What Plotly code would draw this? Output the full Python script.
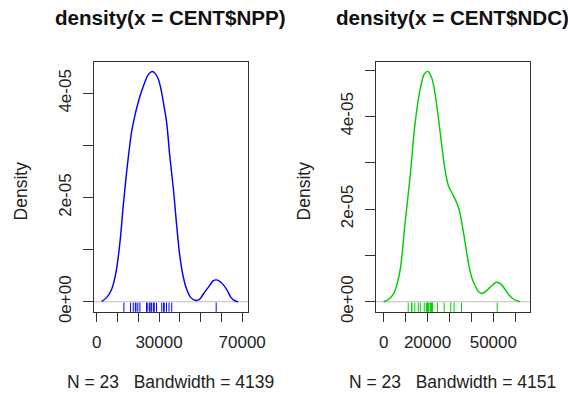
import plotly.graph_objects as go

# ---- data ----
npp_x = [2400, 4800, 7200, 9270, 11200, 12800, 14400, 15600, 16800, 18400, 20000, 21600, 23200,
         25000, 26800, 28200, 29600, 31200, 32400, 33650, 35150, 36900, 38350, 40000, 41550,
         43300, 45300, 47300, 49300, 51300, 54300, 56000, 57700, 59900, 62500, 64700, 66400, 68100]
npp_y = [0.01, 0.08, 0.24, 0.56, 1.14, 1.85, 2.49, 2.90, 3.26, 3.58, 3.83, 4.04, 4.22,
         4.37, 4.42, 4.38, 4.28, 4.03, 3.75, 3.45, 2.81, 2.17, 1.53, 0.88, 0.50,
         0.24, 0.08, 0.03, 0.04, 0.15, 0.31, 0.40, 0.42, 0.37, 0.24, 0.08, 0.02, 0.0]
npp_y = [v * 1e-5 for v in npp_y]
npp_rug = [13100, 16300, 17600, 18600, 18900, 19800, 20800, 24000, 24300, 25300, 25600,
           26200, 26500, 27400, 27700, 28800, 31300, 32200, 32500, 33600, 34800, 36100, 57500]

ndc_x = [0, 2200, 4500, 6200, 7600, 9800, 12100, 14400, 16700, 18600, 20200, 22000, 24200,
         26500, 28000, 29500, 31800, 34100, 36400, 38600, 40200, 41700, 43200, 44700, 46500,
         48500, 51500, 53500, 55300, 57300, 59100, 62100]
ndc_y = [0.0, 0.05, 0.17, 0.40, 0.71, 1.71, 2.72, 3.88, 4.60, 4.92, 4.97, 4.82, 4.24,
         3.37, 2.85, 2.51, 2.29, 2.04, 1.50, 0.85, 0.52, 0.35, 0.22, 0.18, 0.22,
         0.31, 0.42, 0.38, 0.27, 0.14, 0.06, 0.0]
ndc_y = [v * 1e-5 for v in ndc_y]
ndc_rug = [11200, 12700, 12900, 14200, 15800, 16700, 18500, 19400, 19700, 20000, 20300,
           20600, 21200, 21500, 21800, 22100, 22400, 24500, 27600, 30600, 32100, 35500, 51800]

titles = ["density(x = CENT$NPP)", "density(x = CENT$NDC)"]
subtitles = ["N = 23   Bandwidth = 4139", "N = 23   Bandwidth = 4151"]

npp_xticks = [0, 10000, 20000, 30000, 40000, 50000, 60000, 70000]
npp_xlabels = ["0", "", "", "30000", "", "", "", "70000"]
ndc_xticks = [0, 10000, 20000, 30000, 40000, 50000, 60000]
ndc_xlabels = ["0", "", "20000", "", "", "50000", ""]
npp_yticks = [0, 1e-5, 2e-5, 3e-5, 4e-5]
npp_ylabels = ["0e+00", "", "2e-05", "", "4e-05"]
ndc_yticks = [0, 1e-5, 2e-5, 3e-5, 4e-5, 5e-5]
ndc_ylabels = ["0e+00", "", "2e-05", "", "4e-05", ""]

FONT = "Liberation Sans, Arial, sans-serif"
W, H = 568, 394          # reference coordinate frame
K = 1.03                 # render scale compensation
FW, FH = round(W * K), round(H * K)

npp_xr = [-1440, 72870]
npp_yr = [-1.92e-6, 4.60e-5]
ndc_xr = [-3640, 66800]
ndc_yr = [-2.16e-6, 5.17e-5]

fig = go.Figure()

def rug_y(r):
    return r[0] + (r[1] - r[0]) * 0.015

fig.add_trace(go.Scatter(x=npp_x, y=npp_y, mode="lines",
                         line=dict(color="#0000FF", width=1.4 * K, shape="spline", smoothing=1.0),
                         xaxis="x", yaxis="y", showlegend=False, hoverinfo="skip"))
fig.add_trace(go.Scatter(x=npp_rug, y=[rug_y(npp_yr)] * len(npp_rug), mode="markers",
                         marker=dict(symbol="line-ns-open", size=7.5 * K, color="#0000FF",
                                     line=dict(color="#0000FF", width=1)),
                         xaxis="x", yaxis="y", showlegend=False, hoverinfo="skip"))
fig.add_trace(go.Scatter(x=ndc_x, y=ndc_y, mode="lines",
                         line=dict(color="#00CD00", width=1.4 * K, shape="spline", smoothing=1.0),
                         xaxis="x2", yaxis="y2", showlegend=False, hoverinfo="skip"))
fig.add_trace(go.Scatter(x=ndc_rug, y=[rug_y(ndc_yr)] * len(ndc_rug), mode="markers",
                         marker=dict(symbol="line-ns-open", size=7.5 * K, color="#00CD00",
                                     line=dict(color="#00CD00", width=1)),
                         xaxis="x2", yaxis="y2", showlegend=False, hoverinfo="skip"))

for xr, yr in [("x", "y"), ("x2", "y2")]:
    fig.add_shape(type="line", xref=f"{xr} domain", yref=yr, x0=0, x1=1, y0=0, y1=0,
                  line=dict(color="#BEBEBE", width=1), layer="below")

axis_common = dict(showline=True, linecolor="#333333", linewidth=1, mirror=True,
                   ticks="outside", ticklen=9 * K, tickcolor="#333333", tickwidth=1,
                   showgrid=False, zeroline=False, fixedrange=True,
                   tickfont=dict(family=FONT, size=16.5 * K, color="#222222"))

dom1 = [92 / W, 247 / W]
dom2 = [375 / W, 530 / W]
ydom = [(H - 311) / H, (H - 62) / H]

fig.update_layout(
    width=FW, height=FH, margin=dict(l=0, r=0, t=0, b=0, pad=0),
    plot_bgcolor="white", paper_bgcolor="white",
    xaxis=dict(domain=dom1, range=npp_xr, tickvals=npp_xticks, ticktext=npp_xlabels, anchor="y",
               ticklabelstandoff=round(6 * K), **axis_common),
    yaxis=dict(domain=ydom, range=npp_yr, tickvals=npp_yticks, ticktext=npp_ylabels, anchor="x",
               tickangle=-90, ticklabelstandoff=round(6 * K), **axis_common),
    xaxis2=dict(domain=dom2, range=ndc_xr, tickvals=ndc_xticks, ticktext=ndc_xlabels, anchor="y2",
                ticklabelstandoff=round(6 * K), **axis_common),
    yaxis2=dict(domain=ydom, range=ndc_yr, tickvals=ndc_yticks, ticktext=ndc_ylabels, anchor="x2",
                tickangle=-90, ticklabelstandoff=round(6 * K), **axis_common),
)

for i, dom in enumerate([dom1, dom2]):
    cx = (dom[0] + dom[1]) / 2
    fig.add_annotation(text=f"<b>{titles[i]}</b>", x=cx, y=1 - 17 / H, xref="paper", yref="paper",
                       showarrow=False, xanchor="center", yanchor="middle",
                       font=dict(family=FONT, size=20 * K, color="#111111"))
    fig.add_annotation(text=subtitles[i], x=cx, y=1 - 381 / H, xref="paper", yref="paper",
                       showarrow=False, xanchor="center", yanchor="middle",
                       font=dict(family=FONT, size=17 * K, color="#222222"))
    dx = [20, 304][i]
    fig.add_annotation(text="Density", x=dx / W, y=1 - 190 / H, xref="paper", yref="paper",
                       showarrow=False, xanchor="center", yanchor="middle", textangle=-90,
                       font=dict(family=FONT, size=17 * K, color="#222222"))

post = (
    "document.body.style.margin='0';"
    "document.body.style.overflow='hidden';"
    "document.documentElement.style.overflow='hidden';"
)

fig.write_html("out.html", config={"displayModeBar": False}, post_script=post)
